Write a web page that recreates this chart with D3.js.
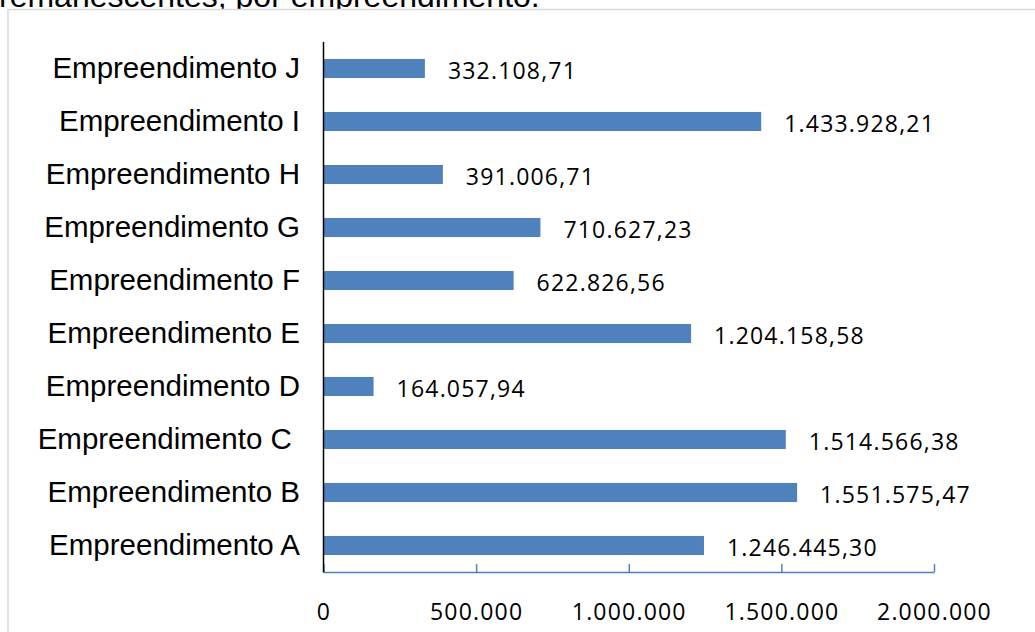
<!DOCTYPE html>
<html>
<head>
<meta charset="utf-8">
<script src="https://cdn.jsdelivr.net/npm/d3@7"></script>
<style>
  html, body { margin: 0; padding: 0; background: #fff; overflow: hidden; }
</style>
</head>
<body>
<div id="chart"></div>
<script>
// chart data
const categories = ['Empreendimento A', 'Empreendimento B', 'Empreendimento C ', 'Empreendimento D',
  'Empreendimento E', 'Empreendimento F', 'Empreendimento G', 'Empreendimento H',
  'Empreendimento I', 'Empreendimento J'];
const values = [1246445.30, 1551575.47, 1514566.38, 164057.94, 1204158.58,
  622826.56, 710627.23, 391006.71, 1433928.21, 332108.71];
const tickValues = [0, 500000, 1000000, 1500000, 2000000];
const caption = 'remanescentes, por empreendimento.';

const width = 1035;
const height = 632;

const br = d3.formatLocale({ decimal: ',', thousands: '.', grouping: [3], currency: ['R$', ''] });
const fmtValue = br.format(',.2f');
const fmtTick = br.format(',.0f');

const data = categories.map((c, i) => ({ key: c, value: values[i] }));

const svg = d3.select('#chart').append('svg')
  .attr('width', width)
  .attr('height', height);

// caption from the page above, cut off by the frame
svg.append('text')
  .attr('x', -1)
  .attr('y', 7)
  .style('font-family', '"Liberation Sans", Arial, sans-serif')
  .style('font-size', '32px')
  .attr('fill', '#000')
  .text(caption);

// chart frame
svg.append('rect')
  .attr('x', 8)
  .attr('y', 9.5)
  .attr('width', 1040)
  .attr('height', 640)
  .attr('fill', '#fff')
  .attr('stroke', '#d9d9d9')
  .attr('stroke-width', 1.5);

const x = d3.scaleLinear().domain([0, 2000000]).range([323.5, 934]);
const y = d3.scaleBand()
  .domain(categories.slice().reverse())
  .range([42, 572])
  .paddingInner(0.64)
  .paddingOuter(0.32);

const barColor = '#4f81bd';

// bars
svg.selectAll('.bar')
  .data(data)
  .enter().append('rect')
  .attr('class', 'bar')
  .attr('x', x(0))
  .attr('y', d => y(d.key))
  .attr('width', d => x(d.value) - x(0))
  .attr('height', y.bandwidth())
  .attr('fill', barColor);

// value labels
svg.selectAll('.val')
  .data(data)
  .enter().append('text')
  .attr('class', 'val')
  .attr('x', d => x(d.value) + 23)
  .attr('y', d => y(d.key) + y.bandwidth() / 2 + 10)
  .style('font-family', '"Open Sans", sans-serif')
  .style('font-size', '23px')
  .style('letter-spacing', '1.2px')
  .attr('fill', '#000')
  .text(d => fmtValue(d.value));

// category labels
svg.selectAll('.cat')
  .data(data)
  .enter().append('text')
  .attr('class', 'cat')
  .attr('x', 300)
  .attr('y', d => y(d.key) + y.bandwidth() / 2 + 9.5)
  .attr('text-anchor', 'end')
  .attr('xml:space', 'preserve')
  .style('white-space', 'pre')
  .style('font-family', '"Liberation Sans", Arial, sans-serif')
  .style('font-size', '29.5px')
  .attr('fill', '#000')
  .text(d => d.key);

// x axis (blue, ticks pointing up)
const xAxis = svg.append('g')
  .attr('transform', 'translate(0,572)')
  .call(d3.axisBottom(x)
    .tickValues(tickValues)
    .tickSizeInner(-8)
    .tickSizeOuter(0)
    .tickPadding(32)
    .tickFormat(d => fmtTick(d)));

xAxis.select('.domain').attr('stroke', barColor).attr('stroke-width', 1.5);
xAxis.selectAll('.tick line').attr('stroke', barColor).attr('stroke-width', 1.5);
xAxis.selectAll('.tick text')
  .attr('fill', '#000')
  .style('font-family', '"Open Sans", sans-serif')
  .style('font-size', '23px')
  .style('letter-spacing', '1.2px');

// y axis line
svg.append('line')
  .attr('x1', 323.5)
  .attr('x2', 323.5)
  .attr('y1', 42)
  .attr('y2', 572.5)
  .attr('stroke', '#000')
  .attr('stroke-width', 1.5);
</script>
</body>
</html>
